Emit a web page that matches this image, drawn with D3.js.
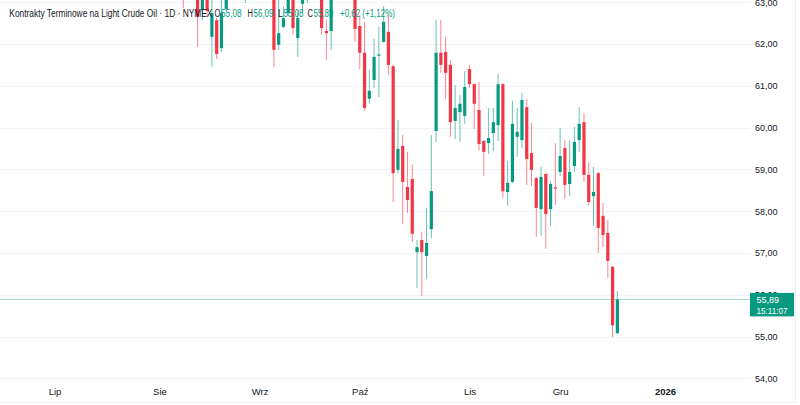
<!DOCTYPE html>
<html><head><meta charset="utf-8">
<script src="https://cdn.jsdelivr.net/npm/d3@7"></script>
<style>html,body{margin:0;padding:0;background:#fff;overflow:hidden}</style>
</head><body><svg id="c" width="800" height="405"></svg>
<script>
// ---- data (trading-day index since 2025-07-01, OHLC) ----
const barIndex = [27,30,31,32,33,34,35,36,40,46,47,48,49,50,51,52,53,56,57,58,
  63,64,65,66,67,68,69,70,71,72,73,74,75,76,77,78,79,80,81,82,83,84,85,86,
  87,88,89,90,91,92,93,94,95,96,97,98,99,100,101,102,103,104,105,
  106,107,108,109,110,111,112,113,114,115,116,117,118];
const openP  = [64.05,63.60,62.81,63.70,62.17,62.57,61.90,62.84,63.40,63.40,61.98,62.41,62.74,63.40,62.14,62.96,63.20,63.50,62.31,62.31,
  63.30,62.43,61.79,60.69,61.14,61.72,62.05,62.29,61.47,58.99,59.56,58.58,58.77,57.02,57.31,56.93,57.57,59.92,61.79,61.81,61.50,60.16,60.37,60.28,
  61.40,61.04,60.42,59.68,59.63,59.87,60.06,61.04,58.46,58.70,59.78,59.70,60.49,59.39,58.79,58.05,58.89,58.05,58.57,
  58.94,59.51,58.65,59.08,59.70,60.13,58.87,58.36,58.91,57.89,57.48,56.67,55.08];
const highP  = [64.40,63.90,64.10,64.00,63.10,62.62,63.20,63.60,63.90,63.70,63.10,62.90,63.40,63.60,62.80,63.60,63.70,63.80,62.58,63.40,
  63.50,62.69,62.53,61.38,62.12,62.41,62.91,62.69,61.50,60.18,59.82,59.42,59.11,57.31,57.50,58.08,59.82,62.58,62.58,62.17,61.62,61.02,60.78,61.35,
  61.50,61.06,61.09,59.70,60.47,60.47,61.28,61.06,59.20,60.64,60.47,60.83,60.69,60.11,58.82,59.06,58.92,58.72,59.63,
  59.99,59.70,59.70,60.02,60.49,60.35,59.18,59.06,58.94,58.20,57.79,56.68,56.09];
const lowP   = [62.86,61.93,62.57,62.65,61.45,61.64,61.81,62.80,62.98,61.45,61.86,62.38,62.67,62.22,61.69,62.74,62.98,62.22,61.62,61.86,
  62.05,61.40,60.40,60.57,60.95,60.73,62.03,61.26,58.22,58.91,57.69,57.96,57.26,56.16,55.97,56.38,57.36,59.66,61.31,60.69,59.78,59.73,59.66,60.09,
  60.95,59.97,59.46,58.84,59.37,59.44,59.68,58.32,58.13,58.68,59.30,59.51,58.63,58.60,57.38,57.41,57.10,57.65,58.15,
  58.84,58.29,58.36,58.94,59.42,58.70,58.15,57.65,57.00,57.14,56.40,54.99,55.08];
const closeP = [63.55,62.65,63.90,62.79,62.74,61.76,62.74,63.40,63.60,61.86,62.26,62.62,63.20,62.38,62.62,63.40,63.50,62.38,62.26,63.20,
  62.36,61.79,60.47,60.88,61.69,61.75,62.53,61.50,58.91,59.49,58.70,58.27,57.46,57.14,57.02,57.24,58.48,61.79,61.50,61.31,60.13,60.47,60.57,60.97,
  61.04,60.57,59.61,59.42,59.75,60.13,61.04,58.48,58.68,60.09,59.90,60.66,59.25,58.99,58.08,58.82,57.93,58.65,58.54,
  59.32,58.63,58.94,59.66,60.09,58.87,58.22,58.46,57.60,57.43,56.81,55.27,55.89];

const priceTicks = [54,55,56,57,58,59,60,61,62,63];
const monthIndex = [0,22,43,64,87,106,128];
const monthLabels = ["Lip","Sie","Wrz","Paź","Lis","Gru","2026"];
const lastPrice = 55.89;
const countdown = "15:11:07";
const titleText = "Kontrakty Terminowe na Light Crude Oil · 1D · NYMEX";
const legendKeys = ["O","H","L","C"];
const legendVals = ["55,08","56,09","55,08","55,89"];
const changeText = "+0,62 (+1,12%)";

// ---- chart ----
const UP = "#089981", DOWN = "#f23645", TXT = "#131722", GRID = "#f0f3fa";
const FONT = "Liberation Sans, Arial, sans-serif";
const svg = d3.select("#c");
const W = 800, H = 405, paneR = 750, paneB = 383;
const x = d3.scaleLinear().domain([0, 128]).range([54.5, 54.5 + 128 * 4.77]);
const y = d3.scaleLinear().domain([54, 63]).range([378.4, 2.2]);
const fmt = v => v.toFixed(2).replace(".", ",");

svg.append("rect").attr("width", W).attr("height", H).attr("fill", "#fff");

svg.append("defs").append("clipPath").attr("id", "pane")
  .append("rect").attr("x", 0).attr("y", 0).attr("width", paneR).attr("height", paneB);

// grid
svg.append("g").selectAll("line").data(priceTicks).join("line")
  .attr("x1", 0).attr("x2", paneR)
  .attr("y1", d => Math.round(y(d)) + 0.5).attr("y2", d => Math.round(y(d)) + 0.5)
  .attr("stroke", GRID).attr("stroke-width", 1);

// last price line
svg.append("line")
  .attr("x1", 0).attr("x2", paneR)
  .attr("y1", Math.round(y(lastPrice)) + 0.5).attr("y2", Math.round(y(lastPrice)) + 0.5)
  .attr("stroke", "#a8ddd4").attr("stroke-width", 1);

// candles
const candles = barIndex.map((b, i) => ({ b, o: openP[i], h: highP[i], l: lowP[i], c: closeP[i] }));
const gC = svg.append("g").attr("clip-path", "url(#pane)");
gC.selectAll("line.wick").data(candles).join("line").attr("class", "wick")
  .attr("x1", d => x(d.b)).attr("x2", d => x(d.b))
  .attr("y1", d => y(d.h)).attr("y2", d => y(d.l))
  .attr("stroke", d => d.c >= d.o ? UP : DOWN).attr("stroke-opacity", 0.6).attr("stroke-width", 1);
gC.selectAll("rect.body").data(candles).join("rect").attr("class", "body")
  .attr("x", d => x(d.b) - 1.6).attr("width", 3.2)
  .attr("y", d => y(Math.max(d.o, d.c)))
  .attr("height", d => Math.max(1, Math.abs(y(d.o) - y(d.c))))
  .attr("fill", d => d.c >= d.o ? UP : DOWN);

// price axis
const ay = svg.append("g").attr("transform", `translate(755,0)`)
  .call(d3.axisRight(y).tickValues(priceTicks).tickFormat(fmt).tickSize(0).tickPadding(0));
ay.select(".domain").remove();
ay.selectAll("text").attr("font-family", FONT)
  .attr("font-size", 9).attr("fill", TXT).attr("text-anchor", "start");

// time axis
const ax = svg.append("g").attr("transform", `translate(0,388)`)
  .call(d3.axisBottom(x).tickValues(monthIndex).tickFormat((d, i) => monthLabels[i]).tickSize(0).tickPadding(0));
ax.select(".domain").remove();
ax.selectAll("text").attr("font-family", FONT)
  .attr("font-size", 9.5).attr("fill", TXT)
  .attr("font-weight", (d, i) => monthLabels[i] === "2026" ? "bold" : "normal");

// fitted text helper: squeezes natural text horizontally to span x0..x1
function fitText(parent, t, x0, x1, yb, size, col) {
  const el = parent.append("text").attr("font-family", FONT).attr("font-size", size)
    .attr("fill", col).attr("x", 0).attr("y", 0).text(t);
  const nat = el.node().getComputedTextLength();
  const s = (x1 - x0) / nat;
  el.attr("transform", `translate(${x0},${yb}) scale(${s},1)`);
  return el;
}

// last price label
const yl = y(lastPrice);
svg.append("rect").attr("x", 750).attr("y", yl - 6.5).attr("width", 44).attr("height", 23.5)
  .attr("fill", UP);
svg.append("text").attr("x", 756.5).attr("y", yl).attr("dy", "0.35em")
  .attr("font-family", FONT).attr("font-size", 9)
  .attr("fill", "#fff").text(fmt(lastPrice));
fitText(svg, countdown, 756.5, 787.5, yl + 14.2, 9, "#fff");

// borders
svg.append("line").attr("x1", 795.5).attr("x2", 795.5).attr("y1", 0).attr("y2", 402)
  .attr("stroke", "#eceff4");
svg.append("line").attr("x1", 0).attr("x2", 796).attr("y1", 402.5).attr("y2", 402.5)
  .attr("stroke", "#eceff4");

// legend header
const hdr = svg.append("g");
fitText(hdr, titleText, 9.3, 212.5, 17, 10, TXT);
const keyPos = [[214.5, 221, 241.7], [247.5, 253.5, 273.5], [278, 283.5, 303.5], [307.5, 313.5, 333.5]];
legendKeys.forEach((k, i) => {
  fitText(hdr, k, keyPos[i][0], keyPos[i][1] - 0.6, 17, 10, TXT);
  fitText(hdr, legendVals[i], keyPos[i][1], keyPos[i][2], 17, 10, UP);
});
fitText(hdr, changeText, 340, 395, 17, 10, UP);
</script></body></html>
